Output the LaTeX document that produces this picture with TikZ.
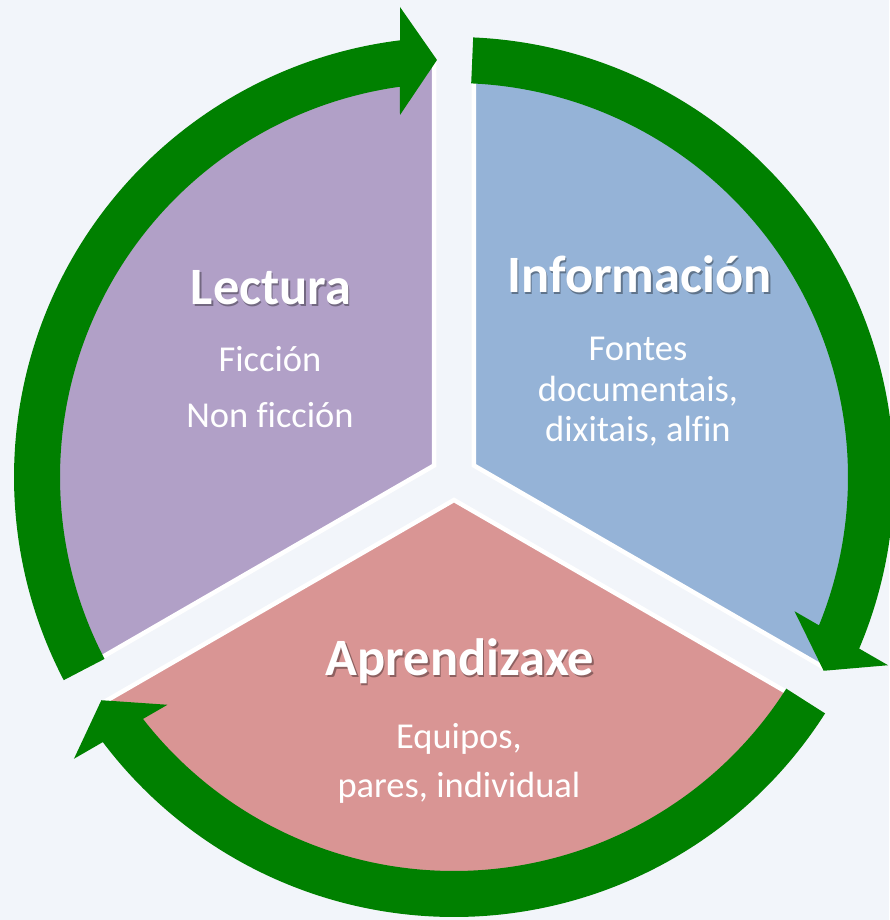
\documentclass[tikz,border=0pt]{standalone}
\usepackage{fontspec}
\setmainfont{Carlito}[Ligatures=NoCommon]
\definecolor{bg}{HTML}{F2F5FA}
\definecolor{lila}{HTML}{B1A0C7}
\definecolor{azul}{HTML}{95B3D7}
\definecolor{rosa}{HTML}{D99594}
\definecolor{verde}{HTML}{008000}
\tikzset{
  seg/.style={draw=white,line width=4.5pt,line join=miter},
  ringarrow/.style={fill=verde},
  ttl/.style={text=white,font=\fontsize{52.5}{63}\selectfont\bfseries,anchor=base,inner sep=0pt},
  ttlsh/.style={text=black,text opacity=0.35,font=\fontsize{52.5}{63}\selectfont\bfseries,anchor=base,inner sep=0pt},
  sub/.style={text=white,font=\fontsize{36.5}{44}\selectfont,anchor=base,inner sep=0pt}
}
\newcommand\myarrowpath{(207.5:440) arc[start angle=207.5,end angle=97.05,radius=440] -- (-54,470) -- (-17,417) -- (-54,362) -- (97.88:394) arc[start angle=97.88,end angle=207.5,radius=394] -- cycle}
\newcommand\mysegpath{(150:23) -- ++(90:405) arc[start angle=90,end angle=210,radius=405] -- cycle}
\begin{document}
\begin{tikzpicture}[x=1pt,y=1pt]
\fill[bg] (-454,-443) rectangle (435,477);
\useasboundingbox (-454,-443) rectangle (435,477);
% pie segments
\path[seg,fill=lila] \mysegpath;
\begin{scope}[rotate=-120]
\path[seg,fill=azul] \mysegpath;
\end{scope}
\begin{scope}[rotate=120]
\path[seg,fill=rosa] \mysegpath;
\end{scope}
% ring arrows
\fill[ringarrow] \myarrowpath;
\begin{scope}[rotate=-120]
\fill[ringarrow] \myarrowpath;
\end{scope}
\begin{scope}[rotate=120]
\fill[ringarrow] \myarrowpath;
\end{scope}
% texts
\node[ttlsh] (t1s) at (-181.5,170) {Lectura};
\node[ttl] (t1) at (-183,172) {Lectura};
\node[sub] (s1a) at (-184,105) {Ficción};
\node[sub] (s1b) at (-184,49) {Non ficción};
\node[ttlsh] (t2s) at (187,182) {Información};
\node[ttl] (t2) at (185.5,184) {Información};
\node[sub] (s2a) at (184,116) {Fontes};
\node[sub] (s2b) at (184,75) {documentais,};
\node[sub] (s2c) at (184,35) {dixitais, alfin};
\node[ttlsh] (t3s) at (7.5,-200) {Aprendizaxe};
\node[ttl] (t3) at (6,-198) {Aprendizaxe};
\node[sub] (s3a) at (5,-271) {Equipos,};
\node[sub] (s3b) at (5,-320) {pares, individual};
\end{tikzpicture}
\end{document}
